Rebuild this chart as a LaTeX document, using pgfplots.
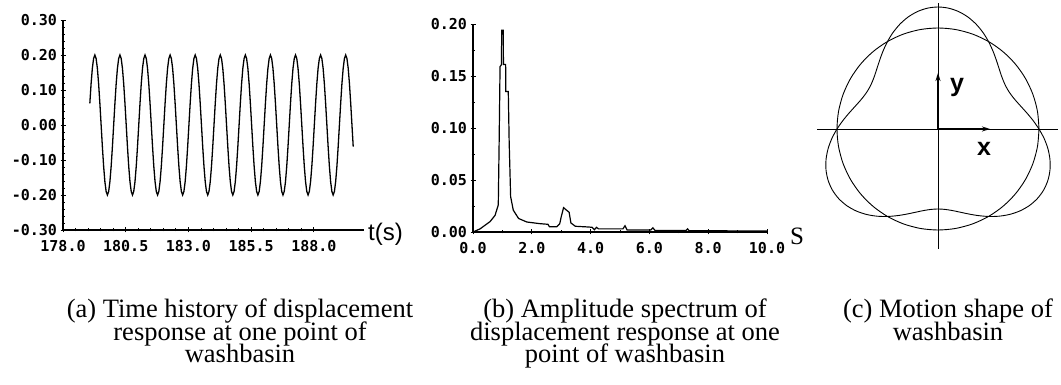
\documentclass[border=0pt]{standalone}
\usepackage{fontspec}
\setmainfont{Liberation Serif}
\newfontfamily\tickfont{DejaVu Sans Mono}
\newfontfamily\lblfont{Liberation Sans}
\usepackage{pgfplots}
\pgfplotsset{compat=1.18}
\usetikzlibrary{arrows.meta}
\pgfplotsset{pan/.style={scale only axis, axis lines=left, axis line style={-, line width=1.2pt},
  tick style={black, line width=0.8pt}, major tick length=5pt, minor tick length=3pt, tick align=center,
  ticklabel style={font=\tickfont\bfseries\fontsize{15}{15}\selectfont},
  xticklabel style={yshift=-4pt},
  clip=false}}
\begin{document}
\begin{tikzpicture}
\path[use as bounding box] (0pt,0pt) rectangle (1061pt,385pt);
% (a) time history
\begin{axis}[at={(63pt,155pt)}, anchor=south west, pan, width=301pt, height=210pt,
  xmin=178, xmax=190, ymin=-0.3, ymax=0.3,
  xtick={178,180.5,183,185.5,188}, xticklabels={178.0,180.5,183.0,185.5,188.0},
  ytick={-0.3,-0.2,-0.1,0,0.1,0.2,0.3}, yticklabels={-0.30,-0.20,-0.10,0.00,0.10,0.20,0.30},
  minor x tick num=4, minor y tick num=4]
\addplot[black, line width=1.3pt] coordinates {
(179.07,0.062)(179.12,0.118)(179.17,0.162)(179.22,0.190)(179.27,0.200)(179.32,0.190)(179.37,0.162)(179.42,0.118)(179.47,0.062)(179.52,0)(179.57,-0.062)(179.62,-0.118)(179.67,-0.162)(179.72,-0.190)(179.77,-0.200)(179.82,-0.190)(179.87,-0.162)(179.92,-0.118)(179.97,-0.062)(180.02,0)
(180.07,0.062)(180.12,0.118)(180.17,0.162)(180.22,0.190)(180.27,0.200)(180.32,0.190)(180.37,0.162)(180.42,0.118)(180.47,0.062)(180.52,0)(180.57,-0.062)(180.62,-0.118)(180.67,-0.162)(180.72,-0.190)(180.77,-0.200)(180.82,-0.190)(180.87,-0.162)(180.92,-0.118)(180.97,-0.062)(181.02,0)
(181.07,0.062)(181.12,0.118)(181.17,0.162)(181.22,0.190)(181.27,0.200)(181.32,0.190)(181.37,0.162)(181.42,0.118)(181.47,0.062)(181.52,0)(181.57,-0.062)(181.62,-0.118)(181.67,-0.162)(181.72,-0.190)(181.77,-0.200)(181.82,-0.190)(181.87,-0.162)(181.92,-0.118)(181.97,-0.062)(182.02,0)
(182.07,0.062)(182.12,0.118)(182.17,0.162)(182.22,0.190)(182.27,0.200)(182.32,0.190)(182.37,0.162)(182.42,0.118)(182.47,0.062)(182.52,0)(182.57,-0.062)(182.62,-0.118)(182.67,-0.162)(182.72,-0.190)(182.77,-0.200)(182.82,-0.190)(182.87,-0.162)(182.92,-0.118)(182.97,-0.062)(183.02,0)
(183.07,0.062)(183.12,0.118)(183.17,0.162)(183.22,0.190)(183.27,0.200)(183.32,0.190)(183.37,0.162)(183.42,0.118)(183.47,0.062)(183.52,0)(183.57,-0.062)(183.62,-0.118)(183.67,-0.162)(183.72,-0.190)(183.77,-0.200)(183.82,-0.190)(183.87,-0.162)(183.92,-0.118)(183.97,-0.062)(184.02,0)
(184.07,0.062)(184.12,0.118)(184.17,0.162)(184.22,0.190)(184.27,0.200)(184.32,0.190)(184.37,0.162)(184.42,0.118)(184.47,0.062)(184.52,0)(184.57,-0.062)(184.62,-0.118)(184.67,-0.162)(184.72,-0.190)(184.77,-0.200)(184.82,-0.190)(184.87,-0.162)(184.92,-0.118)(184.97,-0.062)(185.02,0)
(185.07,0.062)(185.12,0.118)(185.17,0.162)(185.22,0.190)(185.27,0.200)(185.32,0.190)(185.37,0.162)(185.42,0.118)(185.47,0.062)(185.52,0)(185.57,-0.062)(185.62,-0.118)(185.67,-0.162)(185.72,-0.190)(185.77,-0.200)(185.82,-0.190)(185.87,-0.162)(185.92,-0.118)(185.97,-0.062)(186.02,0)
(186.07,0.062)(186.12,0.118)(186.17,0.162)(186.22,0.190)(186.27,0.200)(186.32,0.190)(186.37,0.162)(186.42,0.118)(186.47,0.062)(186.52,0)(186.57,-0.062)(186.62,-0.118)(186.67,-0.162)(186.72,-0.190)(186.77,-0.200)(186.82,-0.190)(186.87,-0.162)(186.92,-0.118)(186.97,-0.062)(187.02,0)
(187.07,0.062)(187.12,0.118)(187.17,0.162)(187.22,0.190)(187.27,0.200)(187.32,0.190)(187.37,0.162)(187.42,0.118)(187.47,0.062)(187.52,0)(187.57,-0.062)(187.62,-0.118)(187.67,-0.162)(187.72,-0.190)(187.77,-0.200)(187.82,-0.190)(187.87,-0.162)(187.92,-0.118)(187.97,-0.062)(188.02,0)
(188.07,0.062)(188.12,0.118)(188.17,0.162)(188.22,0.190)(188.27,0.200)(188.32,0.190)(188.37,0.162)(188.42,0.118)(188.47,0.062)(188.52,0)(188.57,-0.062)(188.62,-0.118)(188.67,-0.162)(188.72,-0.190)(188.77,-0.200)(188.82,-0.190)(188.87,-0.162)(188.92,-0.118)(188.97,-0.062)(189.02,0)
(189.07,0.062)(189.12,0.118)(189.17,0.162)(189.22,0.190)(189.27,0.200)(189.32,0.190)(189.37,0.162)(189.42,0.118)(189.47,0.062)(189.52,0)(189.57,-0.062)
};
\node[anchor=west, inner sep=0pt, xshift=4pt, yshift=-4pt, font=\lblfont\fontsize{24}{24}\selectfont] at (axis cs:190,-0.3) {t(s)};
\end{axis}
% (b) amplitude spectrum
\begin{axis}[at={(473pt,153pt)}, anchor=south west, pan, width=294pt, height=208pt,
  xmin=0, xmax=10, ymin=0, ymax=0.2,
  xtick={0,2,4,6,8,10}, xticklabels={0.0,2.0,4.0,6.0,8.0,10.0},
  ytick={0,0.05,0.1,0.15,0.2}, yticklabels={0.00,0.05,0.10,0.15,0.20},
  minor x tick num=1, minor y tick num=1]
\addplot[black, line width=1.2pt] coordinates {
(0,0)(0.24,0.003)(0.58,0.010)(0.75,0.016)(0.86,0.026)(0.89,0.088)(0.92,0.159)(0.97,0.161)(0.975,0.194)(1.03,0.194)(1.035,0.161)(1.11,0.161)(1.115,0.135)(1.20,0.135)(1.23,0.087)(1.28,0.034)(1.37,0.021)(1.55,0.013)(1.83,0.0096)(2.28,0.008)(2.55,0.0074)(2.6,0.005)(2.85,0.005)(2.95,0.008)(3.0,0.0145)(3.08,0.0234)(3.18,0.021)(3.27,0.019)(3.33,0.0087)(3.48,0.0055)(3.93,0.0048)(4.05,0.0045)(4.13,0.0022)(4.2,0.0045)(4.27,0.003)(5.1,0.003)(5.17,0.006)(5.24,0.002)(6.05,0.002)(6.12,0.004)(6.19,0.0015)(7.25,0.0015)(7.3,0.003)(7.35,0.0012)(10,0.001)
};
\node[anchor=west, inner sep=0pt, xshift=23pt, yshift=-4pt, font=\fontsize{25}{25}\selectfont] at (axis cs:10,0) {S};
\end{axis}
% (c) motion shape
\begin{axis}[at={(817pt,136pt)}, anchor=south west, scale only axis, width=241pt, height=246pt,
  xmin=-121, xmax=120, ymin=-120, ymax=126, hide axis, clip=false]
\addplot[black, line width=0.8pt] coordinates {(-121,0) (120,0)};
\addplot[black, line width=0.8pt] coordinates {(0,-120) (0,126)};
\addplot[black, line width=1.4pt, -{Stealth[length=8pt,width=5pt]}] coordinates {(0,0) (52,0)};
\addplot[black, line width=1.4pt, -{Stealth[length=8pt,width=5pt]}] coordinates {(0,0) (0,56)};
\addplot[black, line width=0.9pt, smooth, data cs=polar] coordinates {
(0,101)(10,101)(20,101)(30,101)(40,101)(50,101)(60,101)(70,101)(80,101)(90,101)(100,101)(110,101)
(120,101)(130,101)(140,101)(150,101)(160,101)(170,101)(180,101)(190,101)(200,101)(210,101)(220,101)(230,101)
(240,101)(250,101)(260,101)(270,101)(280,101)(290,101)(300,101)(310,101)(320,101)(330,101)(340,101)(350,101)(360,101)
};
\addplot[black, line width=0.9pt, smooth, data cs=polar] coordinates {
(0,101)(5,95.56)(10,90.5)(15,86.15)(20,82.81)(25,80.72)(30,80)(35,80.72)(40,82.81)(45,86.15)(50,90.5)(55,95.56)
(60,101)(65,106.44)(70,111.5)(75,115.85)(80,119.19)(85,121.28)(90,122)(95,121.28)(100,119.19)(105,115.85)(110,111.5)(115,106.44)
(120,101)(125,95.56)(130,90.5)(135,86.15)(140,82.81)(145,80.72)(150,80)(155,80.72)(160,82.81)(165,86.15)(170,90.5)(175,95.56)
(180,101)(185,106.44)(190,111.5)(195,115.85)(200,119.19)(205,121.28)(210,122)(215,121.28)(220,119.19)(225,115.85)(230,111.5)(235,106.44)
(240,101)(245,95.56)(250,90.5)(255,86.15)(260,82.81)(265,80.72)(270,80)(275,80.72)(280,82.81)(285,86.15)(290,90.5)(295,95.56)
(300,101)(305,106.44)(310,111.5)(315,115.85)(320,119.19)(325,121.28)(330,122)(335,121.28)(340,119.19)(345,115.85)(350,111.5)(355,106.44)
(360,101)
};
\node[font=\lblfont\bfseries\fontsize{25}{25}\selectfont, inner sep=0pt] at (axis cs:19,42) {y};
\node[font=\lblfont\bfseries\fontsize{25}{25}\selectfont, inner sep=0pt] at (axis cs:46,-19.5) {x};
\end{axis}
% captions
\begin{scope}[every node/.style={anchor=base, inner sep=0pt, font=\fontsize{26.5}{22.5}\selectfont}]
\node at (240pt,67pt) {(a) Time history of displacement};
\node at (240pt,44.5pt) {response at one point of};
\node at (240pt,22pt) {washbasin};
\node at (625pt,67pt) {(b) Amplitude spectrum of};
\node at (625pt,44.5pt) {displacement response at one};
\node at (625pt,22pt) {point of washbasin};
\node at (948pt,67pt) {(c) Motion shape of};
\node at (948pt,44.5pt) {washbasin};
\end{scope}
\end{tikzpicture}
\end{document}
